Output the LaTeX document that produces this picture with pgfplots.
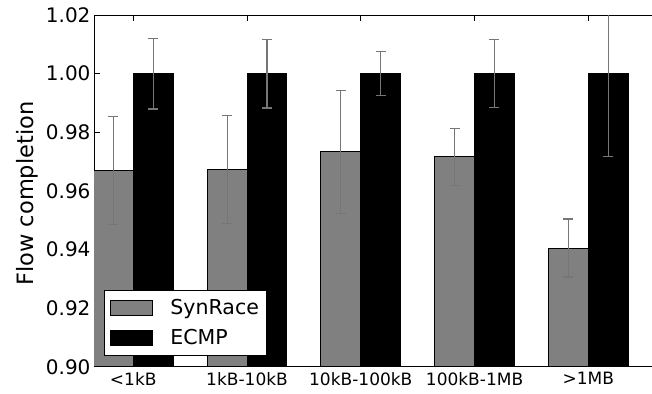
\documentclass[border=0pt]{standalone}
\usepackage{fontspec}
\setmainfont{DejaVu Sans}
\usepackage{pgfplots}
\pgfplotsset{compat=1.18}
\definecolor{barg}{RGB}{128,128,128}
\definecolor{errg}{RGB}{118,118,118}
\begin{document}
\begin{tikzpicture}
\begin{axis}[
  at={(0,0)}, anchor=south west,
  x=113.75pt, y=2930.8pt,
  xmin=-0.345, xmax=4.56,
  ymin=0.90, ymax=1.02,
  axis x line*=box, axis y line*=left,
  axis line style={line width=0.9pt, black},
  tick align=inside,
  major tick length=6pt,
  tick style={black, line width=0.8pt},
  xtick={0,1,2,3,4},
  xticklabels={{<1kB},{1kB-10kB},{10kB-100kB},{100kB-1MB},{>1MB}},
  ytick={0.90,0.92,0.94,0.96,0.98,1.00,1.02},
  yticklabel style={/pgf/number format/fixed, /pgf/number format/precision=2, /pgf/number format/fixed zerofill, /pgf/number format/assume math mode=true, font=\fontsize{20}{20}\selectfont},
  xticklabel style={font=\fontsize{17}{17}\selectfont, yshift=-2pt},
  ylabel={Flow completion},
  ylabel style={at={(axis description cs:0,0.5)}, anchor=north, inner sep=0pt, yshift=78pt, xshift=-2.7pt, font=\fontsize{22.5}{22.5}\selectfont},
  legend style={at={(0.018,0.0304)}, anchor=south west, draw=black, line width=0.8pt,
    font=\fontsize{20.5}{20.5}\selectfont, inner xsep=6pt, inner ysep=7.5pt, row sep=9pt, column sep=15pt},
  legend cell align=left,
]
\addplot[ybar, bar width=39.8pt, bar shift=0pt, fill=barg, draw=black, line width=1pt,
  legend image code/.code={\draw[fill=barg, draw=black, line width=1pt] (0pt,-7.3pt) rectangle (42pt,7.3pt);},
  error bars/.cd, y dir=both, y explicit,
  error bar style={color=errg, line width=1.2pt},
  error mark options={rotate=90, mark size=5pt, line width=1.2pt, color=errg}]
  coordinates {
  (-0.175,0.9669) +- (0,0.0184)
  (0.825,0.9673) +- (0,0.0185)
  (1.825,0.9733) +- (0,0.0210)
  (2.825,0.9716) +- (0,0.0098)
  (3.825,0.9405) +- (0,0.0099)
  };
\addlegendentry{SynRace}
\addplot[ybar, bar width=39.8pt, bar shift=0pt, fill=black, draw=black, line width=1pt,
  legend image code/.code={\draw[fill=black, draw=black, line width=1pt] (0pt,-7.3pt) rectangle (42pt,7.3pt);},
  error bars/.cd, y dir=both, y explicit,
  error bar style={color=errg, line width=1.2pt},
  error mark options={rotate=90, mark size=5pt, line width=1.2pt, color=errg}]
  coordinates {
  (0.175,1.00) +- (0,0.0121)
  (1.175,1.00) +- (0,0.0117)
  (2.175,1.00) +- (0,0.0075)
  (3.175,1.00) +- (0,0.0116)
  (4.175,1.00) +- (0,0.0284)
  };
\addlegendentry{ECMP}
\end{axis}
\pgfresetboundingbox
\path (-94pt,-26.3pt) rectangle (557.9pt,366.7pt);
\end{tikzpicture}
\end{document}
